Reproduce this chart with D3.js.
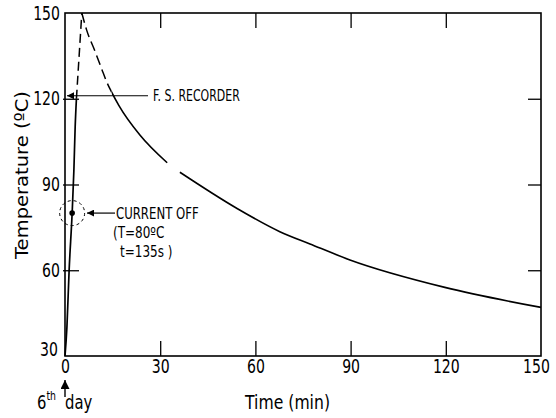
<!DOCTYPE html>
<html>
<head>
<meta charset="utf-8">
<script src="https://cdn.jsdelivr.net/npm/d3@7"></script>
<style>
  body { margin: 0; background: #fff; }
  svg text { font-family: "DejaVu Sans", sans-serif; fill: #000; }
</style>
</head>
<body>
<svg width="556" height="418"></svg>
<script>
// heating (solid) -> not recorded (dashed) -> cooling (solid, small gap in the trace)
var riseTime = [0, 0.6, 1.3, 2.25, 2.8, 3.2, 3.6];
var riseTemp = [30, 40, 60, 80, 95, 110, 120];
var jumpTime = [3.6, 5.3];
var jumpTemp = [120, 150];
var dropTime = [5.3, 6.8, 9.5, 11.6, 13.1, 14.7];
var dropTemp = [150, 144.1, 136.5, 130.3, 126.0, 122.3];
var coolTime = [17.0, 23.6, 32.2];
var coolTemp = [117.6, 107.3, 97.6];
var tailTime = [36.2, 54.1, 67.7, 77.2, 89.8, 119.7, 150];
var tailTemp = [94.3, 81.7, 73.5, 69.2, 63.6, 54.0, 47.0];
var xTicks = [0, 30, 60, 90, 120, 150];
var yTicks = [30, 60, 90, 120, 150];
var offPoint = {t: 2.25, T: 80};   // current off, 135 s
var recorderTemp = 120;

var svg = d3.select("svg");
var x = d3.scaleLinear().domain([0, 150]).range([65, 541]);
var y = d3.scaleLinear().domain([30, 150]).range([356, 13]);

function pts(ts, vs){
  return ts.map(function(t, i){ return {t: t, T: vs[i]}; });
}
// no narrow font installed, so squeeze glyphs to the width the print has
function squeeze(sel, k){
  sel.each(function(){
    var w = this.getComputedTextLength();
    d3.select(this).attr("textLength", w * k).attr("lengthAdjust", "spacingAndGlyphs");
  });
  return sel;
}

// arrow heads
var defs = svg.append("defs");
defs.append("marker").attr("id", "head")
  .attr("viewBox", "0 0 10 10").attr("refX", 10).attr("refY", 5)
  .attr("markerWidth", 9).attr("markerHeight", 7).attr("orient", "auto")
  .attr("markerUnits", "userSpaceOnUse")
  .append("path").attr("d", "M0,0 L10,5 L0,10 z").attr("fill", "#000");
defs.append("marker").attr("id", "bighead")
  .attr("viewBox", "0 0 10 10").attr("refX", 10).attr("refY", 5)
  .attr("markerWidth", 10).attr("markerHeight", 9).attr("orient", "auto")
  .attr("markerUnits", "userSpaceOnUse")
  .append("path").attr("d", "M0,0 L10,5 L0,10 z").attr("fill", "#000");

// split of the cooling curve into dashed / solid part
var cut = x(dropTime[dropTime.length - 1]);
defs.append("clipPath").attr("id", "dashpart").append("rect")
  .attr("x", 0).attr("y", 0).attr("width", cut).attr("height", 418);
defs.append("clipPath").attr("id", "solidpart").append("rect")
  .attr("x", cut).attr("y", 0).attr("width", 556 - cut).attr("height", 418);

// frame
svg.append("rect").attr("x", x(0)).attr("y", y(150))
  .attr("width", x(150) - x(0)).attr("height", y(30) - y(150))
  .attr("fill", "none").attr("stroke", "#000").attr("stroke-width", 1.6);

var inner = function(v, lo, hi){ return v != lo && v != hi; };

var axB = svg.append("g").attr("transform", "translate(0," + y(30) + ")")
  .call(d3.axisBottom(x).tickValues(xTicks).tickSizeInner(-15).tickSizeOuter(0).tickPadding(3));
var axL = svg.append("g").attr("transform", "translate(" + x(0) + ",0)")
  .call(d3.axisLeft(y).tickValues(yTicks).tickSizeInner(-14).tickSizeOuter(0).tickPadding(5));
var axT = svg.append("g").attr("transform", "translate(0," + y(150) + ")")
  .call(d3.axisTop(x).tickValues(xTicks.filter(function(v){ return inner(v, 0, 150); })).tickSizeInner(-15).tickSizeOuter(0).tickFormat(""));
var axR = svg.append("g").attr("transform", "translate(" + x(150) + ",0)")
  .call(d3.axisRight(y).tickValues(yTicks.filter(function(v){ return inner(v, 30, 150); })).tickSizeInner(-13).tickSizeOuter(0).tickFormat(""));

[axB, axL, axT, axR].forEach(function(g){
  g.attr("font-family", null).attr("font-size", null);
  g.select(".domain").remove();
  g.selectAll("line").attr("stroke", "#000").attr("stroke-width", 1.3);
  squeeze(g.selectAll("text").attr("font-size", 19), 0.74);
});
axB.selectAll(".tick").filter(function(d){ return !inner(d, 0, 150); }).select("line").remove();
axL.selectAll(".tick").filter(function(d){ return !inner(d, 30, 150); }).select("line").remove();
// corner labels sit a little off their ticks in the print
axL.selectAll(".tick").filter(function(d){ return d == 30; }).select("text").attr("y", -7).attr("x", -7);
axB.selectAll(".tick").filter(function(d){ return d == 150; }).select("text").attr("x", -5);
// left ticks poke out a bit
axL.selectAll(".tick line").attr("x1", -2);

// curve
var line = d3.line()
  .defined(function(d){ return d.T != null; })
  .x(function(d){ return x(d.t); })
  .y(function(d){ return y(d.T); })
  .curve(d3.curveMonotoneX);
var straight = d3.line()
  .x(function(d){ return x(d.t); })
  .y(function(d){ return y(d.T); });

svg.append("path").datum(pts(riseTime, riseTemp)).attr("d", line)
  .attr("fill", "none").attr("stroke", "#000").attr("stroke-width", 1.7);
svg.append("path").datum(pts(jumpTime, jumpTemp)).attr("d", straight)
  .attr("fill", "none").attr("stroke", "#000").attr("stroke-width", 1.5)
  .attr("stroke-dasharray", "9,5");

var fall = pts(dropTime, dropTemp).concat(pts(coolTime, coolTemp), [{t: null, T: null}], pts(tailTime, tailTemp));
svg.append("path").datum(fall).attr("d", line).attr("clip-path", "url(#dashpart)")
  .attr("fill", "none").attr("stroke", "#000").attr("stroke-width", 1.5)
  .attr("stroke-dasharray", "10,5");
svg.append("path").datum(fall).attr("d", line).attr("clip-path", "url(#solidpart)")
  .attr("fill", "none").attr("stroke", "#000").attr("stroke-width", 1.6);

// F.S. recorder
svg.append("line").attr("x1", 148).attr("x2", x(0) + 2)
  .attr("y1", y(recorderTemp) - 3).attr("y2", y(recorderTemp) - 3)
  .attr("stroke", "#000").attr("stroke-width", 1.2).attr("marker-end", "url(#head)");
squeeze(svg.append("text").attr("x", 153).attr("y", y(recorderTemp) + 2)
  .attr("font-size", 15).text("F. S. RECORDER"), 0.73);

// current off
svg.append("circle").attr("cx", x(offPoint.t)).attr("cy", y(offPoint.T)).attr("r", 12.5)
  .attr("fill", "none").attr("stroke", "#000").attr("stroke-width", 1).attr("stroke-dasharray", "3,3");
svg.append("circle").attr("cx", x(offPoint.t)).attr("cy", y(offPoint.T)).attr("r", 2.8).attr("fill", "#000");
svg.append("line").attr("x1", 115).attr("x2", 87)
  .attr("y1", y(offPoint.T)).attr("y2", y(offPoint.T))
  .attr("stroke", "#000").attr("stroke-width", 1.2).attr("marker-end", "url(#head)");
squeeze(svg.append("text").attr("x", 116).attr("y", y(offPoint.T) + 6).attr("font-size", 15).text("CURRENT OFF"), 0.78);
squeeze(svg.append("text").attr("x", 113).attr("y", y(offPoint.T) + 25).attr("font-size", 15).text("(T=80\u00baC"), 0.8);
squeeze(svg.append("text").attr("x", 120).attr("y", y(offPoint.T) + 44).attr("font-size", 15).text("t=135s )"), 0.8);

// axis titles
svg.append("text").attr("transform", "translate(28,175) rotate(-90)")
  .attr("text-anchor", "middle").attr("font-size", 18)
  .attr("textLength", 168).attr("lengthAdjust", "spacingAndGlyphs")
  .text("Temperature (\u00baC)");
svg.append("text").attr("x", 245).attr("y", 409).attr("font-size", 19)
  .attr("textLength", 85).attr("lengthAdjust", "spacingAndGlyphs")
  .text("Time (min)");

// 6th day marker
svg.append("line").attr("x1", x(0)).attr("x2", x(0)).attr("y1", 397).attr("y2", 380)
  .attr("stroke", "#000").attr("stroke-width", 1.4).attr("marker-end", "url(#bighead)");
var day = svg.append("text").attr("transform", "translate(37,409) scale(0.78,1)").attr("font-size", 19);
day.append("tspan").attr("x", 0).text("6");
day.append("tspan").attr("font-size", 12).attr("dy", -9).text("th");
day.append("tspan").attr("x", 36).attr("dy", 9).text("day");
</script>
</body>
</html>
